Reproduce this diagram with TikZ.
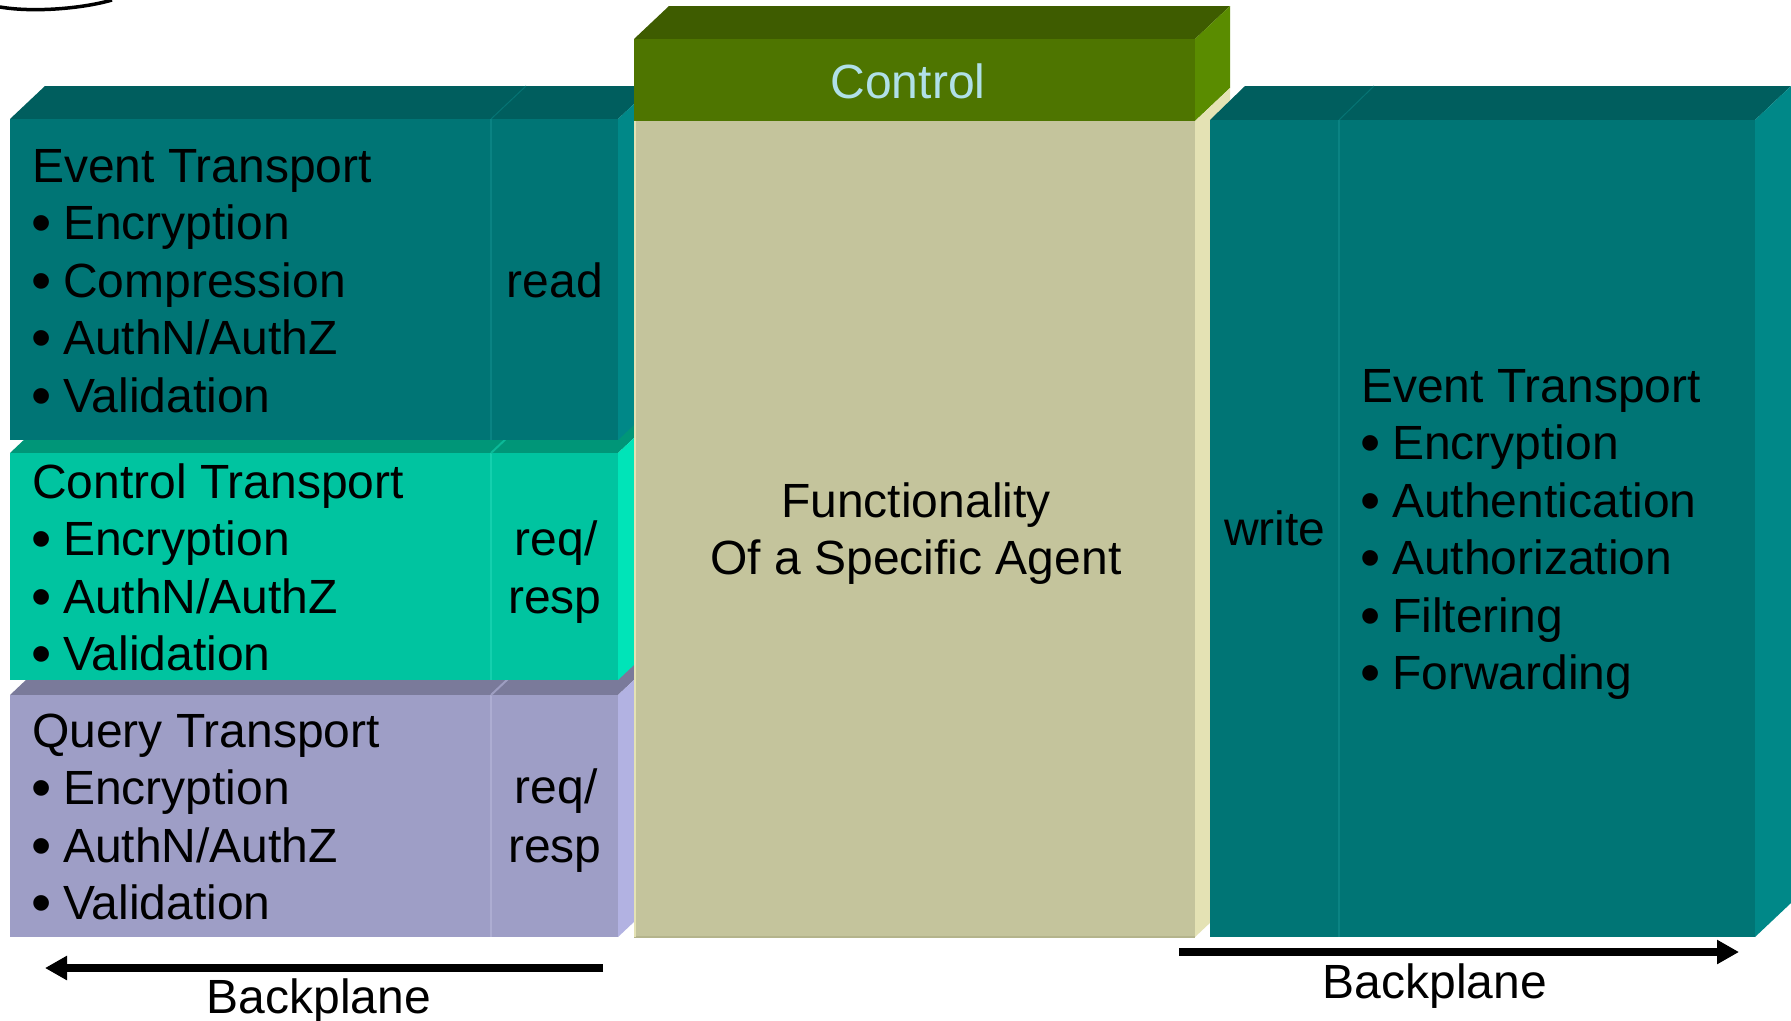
\documentclass[tikz,border=0pt]{standalone}
\usepackage{fontspec}
\setmainfont{Liberation Sans}
\usetikzlibrary{arrows.meta}
\definecolor{evF}{HTML}{007575}
\definecolor{evT}{HTML}{005E5E}
\definecolor{evR}{HTML}{008888}
\definecolor{evL}{HTML}{0A8383}
\definecolor{ctF}{HTML}{00C4A0}
\definecolor{ctT}{HTML}{009678}
\definecolor{ctR}{HTML}{00E4B8}
\definecolor{ctL}{HTML}{14D0AE}
\definecolor{qyF}{HTML}{9E9EC6}
\definecolor{qyT}{HTML}{7A7A9A}
\definecolor{qyR}{HTML}{B2B2E2}
\definecolor{qyL}{HTML}{ADADD2}
\definecolor{grF}{HTML}{4E7500}
\definecolor{grT}{HTML}{3E5C00}
\definecolor{grR}{HTML}{5A8C00}
\definecolor{bgF}{HTML}{C4C49C}
\definecolor{bgR}{HTML}{E4E2B4}
\definecolor{bgE}{HTML}{B4B48C}
\definecolor{ctrlText}{HTML}{B0E0E8}
\newcommand\mybullet{\smash{\raisebox{-3pt}{\scalebox{1.2}{•}}}}
\newcommand\myitem[1]{\hbox{\makebox[31pt][l]{\hspace{-1pt}\mybullet}#1}}
\newcommand\myline[1]{\hbox{#1}}
\begin{document}
\begin{tikzpicture}[x=1pt,y=-1pt,
  txt/.style={inner sep=0pt, font=\fontsize{48}{57.5}\selectfont, text=black},
  divline/.style={line width=2pt},
  backarrow/.style={line width=8pt, -{Triangle[length=22pt,width=23pt]}}]
\useasboundingbox (0,0) rectangle (1791,1020);
\fill[white] (0,0) rectangle (1791,1020);
% partial ellipse at top-left corner
\draw[line width=3.5pt, black] (0,7) .. controls (35,13) and (85,8) .. (112,0);
% ---------- Query Transport box ----------
\fill[qyT] (10,695) -- (45,662) -- (653,662) -- (618,695) -- cycle;
\fill[qyR] (618,695) -- (653,662) -- (653,904) -- (618,937) -- cycle;
\fill[qyF] (10,695) rectangle (618,937);
\draw[divline, qyL] (491,695) -- (491,937);
\draw[divline, qyL!70!qyT] (491,695) -- (526,662);
% ---------- Control Transport box ----------
\fill[ctT] (10,453) -- (45,420) -- (653,420) -- (618,453) -- cycle;
\fill[ctR] (618,453) -- (653,420) -- (653,647) -- (618,680) -- cycle;
\fill[ctF] (10,453) rectangle (618,680);
\draw[divline, ctL] (491,453) -- (491,680);
\draw[divline, ctL!60!ctT] (491,453) -- (526,420);
% ---------- Event Transport box (left) ----------
\fill[evT] (10,119) -- (45,86) -- (653,86) -- (618,119) -- cycle;
\fill[evR] (618,119) -- (653,86) -- (653,407) -- (618,440) -- cycle;
\fill[evF] (10,119) rectangle (618,440);
\draw[divline, evL] (491,119) -- (491,440);
\draw[line width=1pt, evL!60!evT] (491,119) -- (526,86);
% ---------- Center column ----------
\fill[grT] (634,39) -- (669,6) -- (1230,6) -- (1195,39) -- cycle;
\fill[grR] (1195,39) -- (1230,6) -- (1230,88) -- (1195,121) -- cycle;
\fill[bgR] (1195,121) -- (1230,88) -- (1230,904) -- (1195,937) -- cycle;
\fill[grF] (634,39) rectangle (1195,121);
\fill[bgF] (634,121) rectangle (1195,937);
\draw[line width=1.5pt, bgE] (634,937) -- (1195,937);
\draw[line width=1.5pt, bgR] (635,121) -- (635,937);
% ---------- Event Transport box (right) ----------
\fill[evT] (1210,120) -- (1245,86) -- (1791,86) -- (1755,120) -- cycle;
\fill[evR] (1755,120) -- (1791,86) -- (1791,903) -- (1755,937) -- cycle;
\fill[evF] (1210,120) rectangle (1755,937);
\draw[divline, evL] (1339,120) -- (1339,937);
\draw[line width=1pt, evL!60!evT] (1339,120) -- (1374,86);
% ---------- Texts ----------
\node[txt, anchor=base west] (evl) at (32,182)
  {\vtop{\myline{Event Transport}\myitem{Encryption}\myitem{Compression}\myitem{AuthN/AuthZ}\myitem{Validation}}};
\node[txt, anchor=base] (read) at (555,297) {read};
\node[txt, anchor=base west] (ctl) at (32,498)
  {\vtop{\myline{Control Transport}\myitem{Encryption}\myitem{AuthN/AuthZ}\myitem{Validation}}};
\node[txt, anchor=base] (ctreq) at (556,555) {req/};
\node[txt, anchor=base] (ctresp) at (555,613) {resp};
\node[txt, anchor=base west] (qyl) at (32,747)
  {\vtop{\myline{Query Transport}\myitem{Encryption}\myitem{AuthN/AuthZ}\myitem{Validation}}};
\node[txt, anchor=base] (qyreq) at (556,803) {req/};
\node[txt, anchor=base] (qyresp) at (555,862) {resp};
\node[txt, anchor=base, text=ctrlText] (ctrl) at (908,98) {Control};
\node[txt, anchor=base] (func) at (916,517)
  {\vtop{\halign{\hfil#\hfil\cr Functionality\cr Of a Specific Agent\cr}}};
\node[txt, anchor=base] (write) at (1275,545) {write};
\node[txt, anchor=base west] (evr) at (1361,402)
  {\vtop{\myline{Event Transport}\myitem{Encryption}\myitem{Authentication}\myitem{Authorization}\myitem{Filtering}\myitem{Forwarding}}};
% ---------- Backplane arrows ----------
\coordinate (la0) at (603,968);
\coordinate (la1) at (45,968);
\coordinate (ra0) at (1179,952);
\coordinate (ra1) at (1739,952);
\draw[backarrow] (la0) -- (la1);
\draw[backarrow] (ra0) -- (ra1);
\node[txt, anchor=base] (bpl) at (319,1013) {Backplane};
\node[txt, anchor=base] (bpr) at (1435,998) {Backplane};
\end{tikzpicture}
\end{document}
